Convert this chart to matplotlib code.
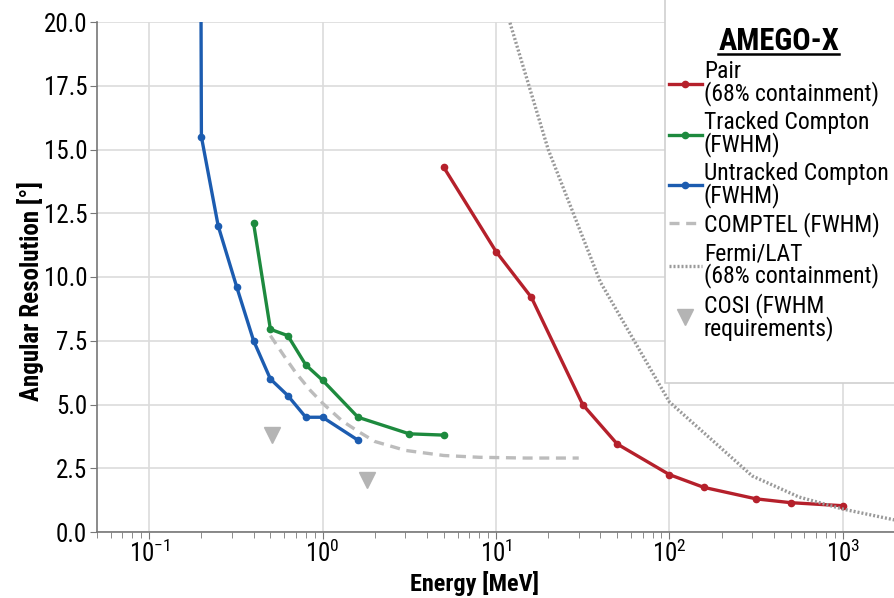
import matplotlib
matplotlib.use("Agg")
import matplotlib.pyplot as plt
from matplotlib.lines import Line2D
from matplotlib.patches import Rectangle
from matplotlib.ticker import LogLocator, NullFormatter, FormatStrFormatter

plt.rcParams['font.family'] = ['Roboto Condensed', 'DejaVu Sans']
plt.rcParams['font.stretch'] = 'condensed'
plt.rcParams['mathtext.fontset'] = 'custom'
plt.rcParams['mathtext.rm'] = 'Roboto Condensed'

# ----------------------
# Data
# ----------------------
pair_e = [5, 10, 16, 31.6, 50, 100, 158, 316, 500, 1000]
pair_res = [14.3, 11.0, 9.2, 5.0, 3.45, 2.25, 1.75, 1.3, 1.15, 1.03]

tracked_e = [0.4, 0.5, 0.63, 0.8, 1.0, 1.6, 3.16, 5.0]
tracked_res = [12.1, 7.95, 7.7, 6.55, 5.95, 4.5, 3.85, 3.8]

untracked_e = [0.195, 0.2, 0.25, 0.32, 0.4, 0.5, 0.63, 0.8, 1.0, 1.6]
untracked_res = [40.0, 15.5, 12.0, 9.6, 7.5, 6.0, 5.35, 4.5, 4.5, 3.6]

comptel_e = [0.5, 0.6, 0.7, 0.85, 1.0, 1.3, 1.6, 2.0, 3.0, 5.0, 8.0, 15.0, 30.0]
comptel_res = [7.7, 6.9, 6.25, 5.55, 5.05, 4.35, 3.95, 3.55, 3.2, 3.0, 2.93, 2.9, 2.9]

fermi_e = [10, 12, 20, 40, 100, 300, 560, 1000, 2000]
fermi_res = [24.0, 20.0, 15.0, 9.8, 5.1, 2.2, 1.37, 0.9, 0.47]

cosi_e = [0.51, 1.8]
cosi_res = [3.8, 2.05]

RED = '#b5202b'
GREEN = '#1d8a3e'
BLUE = '#1c5cb0'

fig = plt.figure(figsize=(8.95, 5.98), dpi=100)
ax = fig.add_axes([97/895, 66/598, 798/895, 510/598])

ax.plot(pair_e, pair_res, '-o', color=RED, lw=2.4, ms=4.5, label='Pair\n(68% containment)')
ax.plot(tracked_e, tracked_res, '-o', color=GREEN, lw=2.4, ms=4.5, label='Tracked Compton\n(FWHM)')
ax.plot(untracked_e, untracked_res, '-o', color=BLUE, lw=2.4, ms=4.5, label='Untracked Compton\n(FWHM)')
ax.plot(comptel_e, comptel_res, '--', color='#bcbcbc', lw=2.4, dashes=(3, 2), label='COMPTEL (FWHM)')
ax.plot(fermi_e, fermi_res, ':', color='#9a9a9a', lw=2.4, dashes=(0.6, 0.6), label='Fermi/LAT\n(68% containment)')
ax.plot(cosi_e, cosi_res, 'v', color='#b4b4b4', ms=11, ls='none', label='COSI (FWHM\nrequirements)')

ax.set_xscale('log')
ax.set_xlim(0.05, 2000)
ax.set_ylim(0, 20)
ax.set_yticks([0, 2.5, 5, 7.5, 10, 12.5, 15, 17.5, 20])
ax.yaxis.set_major_formatter(FormatStrFormatter('%.1f'))
ax.xaxis.set_minor_locator(LogLocator(base=10, subs=range(2, 10)))
ax.xaxis.set_minor_formatter(NullFormatter())

ax.grid(True, which='major', color='#dcdcdc', lw=1.2)
ax.set_axisbelow(True)
for s in ['top', 'right']:
    ax.spines[s].set_visible(False)
for s in ['left', 'bottom']:
    ax.spines[s].set_color('#777777')
    ax.spines[s].set_linewidth(1.2)

ax.tick_params(axis='y', labelsize=18, length=5, color='#777777', pad=2)
ax.tick_params(axis='x', which='major', labelsize=18, length=5, color='#777777', pad=1)
ax.tick_params(axis='x', which='minor', length=4, color='#777777')

ax.set_xlabel('Energy [MeV]', fontsize=17.5, fontweight='bold')
ax.set_ylabel('Angular Resolution [°]', fontsize=18, fontweight='bold')
ax.xaxis.set_label_coords((475 - 97) / 798, (532 - 571) / 510)
ax.yaxis.set_label_coords((44 - 97) / 798, (532 - 291) / 510)

# legend box (white, light grey edge) reaching down to 383 px
lx0 = (665 - 97) / 798
ly0 = (532 - 383) / 510
ax.add_patch(Rectangle((lx0, ly0), 1.2 - lx0, 1.2 - ly0, transform=ax.transAxes,
                       facecolor='white', edgecolor='#d0d0d0', lw=1.2, zorder=4.5,
                       clip_on=False))

leg = ax.legend(loc='upper left', bbox_to_anchor=(lx0, 1.0), title='AMEGO-X', fontsize=17,
                frameon=False, borderaxespad=0, handlelength=1.4, handletextpad=0.1,
                labelspacing=0.2, borderpad=0.15, title_fontsize=22)
leg.get_title().set_fontweight('bold')
for t in leg.get_texts():
    t.set_linespacing(0.9)

# underline the legend title
fig.canvas.draw()
bb = leg.get_title().get_window_extent(fig.canvas.get_renderer())
W, H = fig.bbox.width, fig.bbox.height
fig.add_artist(Line2D([bb.x0 / W, bb.x1 / W], [(bb.y0 + 2) / H, (bb.y0 + 2) / H],
                      color='black', lw=1.8))

fig.savefig('out.png', dpi=100)
